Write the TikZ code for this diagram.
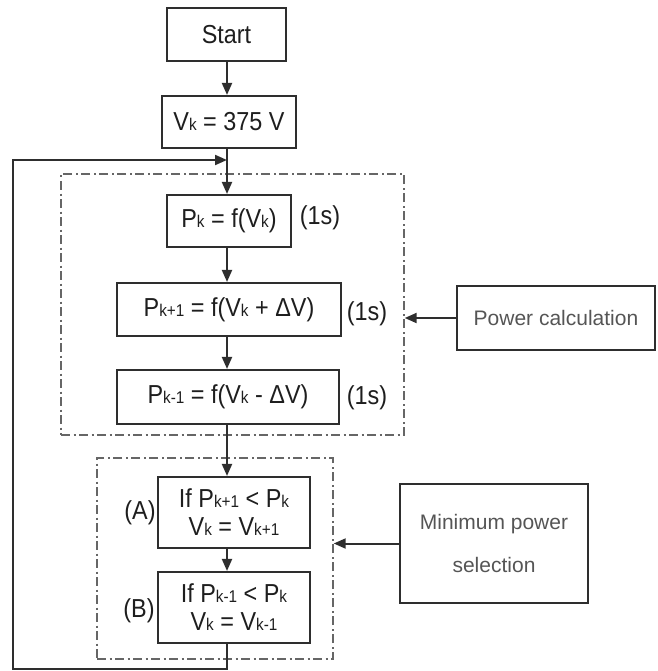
\documentclass[tikz,border=0pt]{standalone}
\usepackage{fontspec}
\setmainfont{Liberation Sans}[FakeStretch=0.9]
\newfontfamily\labf{Liberation Sans}
\usetikzlibrary{arrows.meta}
\newcommand{\ksub}[1]{{\fontsize{17}{17}\selectfont #1}}
\definecolor{boxc}{HTML}{2E2E2E}
\definecolor{txtc}{HTML}{1E1E1E}
\definecolor{labc}{HTML}{555555}
\definecolor{dashc}{HTML}{666666}
\tikzset{
  stepbox/.style={draw=boxc, line width=2.1pt, text=txtc, inner sep=0pt,
    font=\fontsize{26}{28}\selectfont, align=center},
  sidebox/.style={draw=boxc, line width=1.8pt, text=labc, inner sep=0pt,
    font=\labf\fontsize{21}{43}\selectfont, align=center},
  groupbox/.style={draw=dashc, line width=1.4pt, inner sep=0pt,
    dash pattern=on 9pt off 3.5pt on 2pt off 3.5pt},
  arr/.style={draw=boxc, line width=2pt, -{Triangle[length=12pt,width=10pt]}},
  note/.style={text=txtc, inner sep=0pt, font=\fontsize{26}{28}\selectfont}
}
\begin{document}
\begin{tikzpicture}[x=1pt,y=-1pt]
\useasboundingbox (0,0) rectangle (657,671);
% group boxes
\node[groupbox, minimum width=343pt, minimum height=261pt] (g1) at (232.5,304.5) {};
\node[groupbox, minimum width=236pt, minimum height=201pt] (g2) at (215,558.5) {};
% steps
\node[stepbox, minimum width=119pt, minimum height=53pt] (start) at (226.5,34.5) {Start};
\node[stepbox, minimum width=134pt, minimum height=52pt] (vk) at (229,122) {V\ksub{k} = 375 V};
\node[stepbox, minimum width=124pt, minimum height=52pt] (pk) at (229,221) {P\ksub{k} = f(V\ksub{k})};
\node[stepbox, minimum width=224pt, minimum height=53pt] (pk1) at (229,309.5) {P\ksub{k+1} = f(V\ksub{k} + ΔV)};
\node[stepbox, minimum width=222pt, minimum height=54pt] (pkm) at (228,397) {P\ksub{k-1} = f(V\ksub{k} - ΔV)};
\node[stepbox, minimum width=152pt, minimum height=71pt] (A) at (234,512.5) {If P\ksub{k+1} < P\ksub{k}\\V\ksub{k} = V\ksub{k+1}};
\node[stepbox, minimum width=152pt, minimum height=71pt] (B) at (234,607.5) {If P\ksub{k-1} < P\ksub{k}\\V\ksub{k} = V\ksub{k-1}};
% side boxes
\node[sidebox, minimum width=198pt, minimum height=64pt] (pc) at (556,318) {Power calculation};
\node[sidebox, minimum width=188pt, minimum height=119pt] (mp) at (494,543.5) {Minimum power\\selection};
% notes
\node[note] (t1) at (320,218) {(1s)};
\node[note] (t2) at (367,314) {(1s)};
\node[note] (t3) at (367,398) {(1s)};
\node[note] (la) at (140,513) {(A)};
\node[note] (lb) at (139,611) {(B)};
% axis coordinates
\coordinate (j) at (227,160);
\coordinate (lbot) at (13,669);
\coordinate (ltop) at (13,160);
% connectors
\draw[arr] (start.south -| j) -- (vk.north -| j);
\draw[arr] (vk.south -| j) -- (pk.north -| j);
\draw[arr] (pk.south -| j) -- (pk1.north -| j);
\draw[arr] (pk1.south -| j) -- (pkm.north -| j);
\draw[arr] (pkm.south -| j) -- (A.north -| j);
\draw[arr] (A.south -| j) -- (B.north -| j);
\draw[arr] (B.south -| j) |- (lbot) -- (ltop) -- (j);
\draw[arr] (pc.west) -- (pc.west -| g1.east);
\draw[arr] (mp.west) -- (mp.west -| g2.east);
\end{tikzpicture}
\end{document}
